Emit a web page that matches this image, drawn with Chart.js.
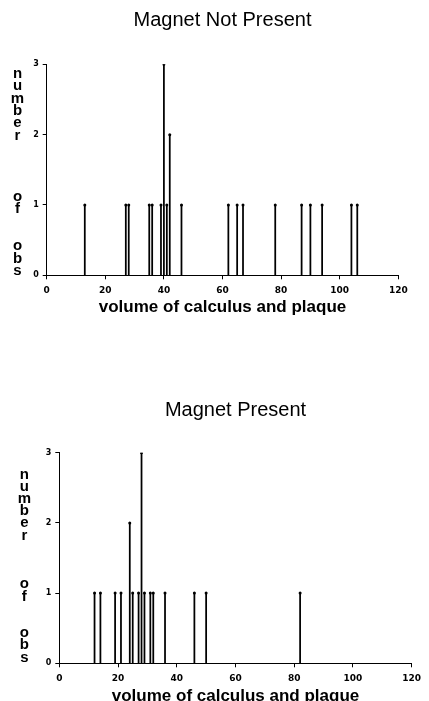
<!DOCTYPE html>
<html>
<head>
<meta charset="utf-8">
<script src="https://cdn.jsdelivr.net/npm/chart.js@4"></script>
<style>
  html, body { margin: 0; padding: 0; background: #fff; overflow: hidden; }
  .box { position: absolute; left: 0; width: 429px; height: 330px; }
</style>
</head>
<body>
<div class="box" style="top:0px"><canvas id="topChart"></canvas></div>
<div class="box" style="top:385px"><canvas id="bottomChart"></canvas></div>
<script>
// volumes (x) and how many obs at each volume
const notPresentVolume = [13, 27, 28, 35, 36, 39, 40, 41, 42, 46, 62, 65, 67, 78, 87, 90, 94, 104, 106];
const notPresentCount  = [1, 1, 1, 1, 1, 1, 3, 1, 2, 1, 1, 1, 1, 1, 1, 1, 1, 1, 1];
const presentVolume = [12, 14, 19, 21, 24, 25, 27, 28, 29, 31, 32, 36, 46, 50, 82];
const presentCount  = [1, 1, 1, 1, 2, 1, 1, 3, 1, 1, 1, 1, 1, 1, 1];

const xTicks = [0, 20, 40, 60, 80, 100, 120];
const yTicks = [0, 1, 2, 3];

const xTitle = 'volume of calculus and plaque';
// y title is drawn one letter per line, blanks are empty lines
const yLettersTop = ['n','u','m','b','e','r','','','','','o','f','','','o','b','s'];
const yLettersBottom = ['n','u','m','b','e','r','','','','o','f','','','o','b','s'];

// draws the upright stacked y axis title
const stackedLabel = {
    id: 'stackedLabel',
    afterDraw(chart, args, opts) {
        const ctx = chart.ctx;
        ctx.save();
        ctx.font = 'bold 15px "Liberation Sans", Arial, sans-serif';
        ctx.fillStyle = '#000';
        ctx.textAlign = 'center';
        ctx.textBaseline = 'middle';
        opts.lines.forEach(function(ch, i) {
            if (ch) ctx.fillText(ch, opts.x, opts.top + i * opts.step);
        });
        ctx.restore();
    }
};

function makeChart(id, title, volume, count, opt) {
    const bars = volume.map(function(v, i) { return {x: v, y: count[i]}; });
    return new Chart(document.getElementById(id).getContext('2d'), {
        type: 'bar',
        data: {
            datasets: [
                {
                    type: 'scatter',
                    data: bars,
                    backgroundColor: '#000',
                    borderWidth: 0,
                    pointRadius: 1.5
                },
                {
                    type: 'bar',
                    data: bars,
                    backgroundColor: '#000',
                    borderWidth: 0,
                    barThickness: 1.1
                }
            ]
        },
        plugins: [stackedLabel],
        options: {
            responsive: true,
            maintainAspectRatio: false,
            animation: false,
            layout: {
                padding: { left: 0, top: 0, right: opt.right, bottom: opt.bottom }
            },
            scales: {
                x: {
                    type: 'linear',
                    min: 0,
                    max: 120,
                    offset: false,
                    afterFit: function(s) { s.height = 45; },
                    afterBuildTicks: function(s) { s.ticks = xTicks.map(function(v) { return {value: v}; }); },
                    grid: { display: true, drawOnChartArea: false, offset: false, tickLength: 4, color: '#000' },
                    border: { display: true, color: '#000', width: 1 },
                    ticks: {
                        maxRotation: 0,
                        padding: 6,
                        color: '#000',
                        font: { family: '"DejaVu Sans"', size: 9, weight: 'bold' }
                    },
                    title: {
                        display: true,
                        text: xTitle,
                        color: '#000',
                        font: { family: '"Liberation Sans"', size: 17, weight: 'bold', lineHeight: 1.2 },
                        padding: { top: 0, bottom: opt.xTitlePad }
                    }
                },
                y: {
                    min: 0,
                    max: 3,
                    afterFit: function(s) { s.width = opt.left; },
                    afterBuildTicks: function(s) { s.ticks = yTicks.map(function(v) { return {value: v}; }); },
                    grid: { display: true, drawOnChartArea: false, tickLength: 4, color: '#000' },
                    border: { display: true, color: '#000', width: 1 },
                    ticks: {
                        padding: 4,
                        color: '#000',
                        font: { family: '"DejaVu Sans"', size: 8, weight: 'bold' }
                    }
                }
            },
            plugins: {
                legend: { display: false },
                tooltip: { enabled: false },
                title: {
                    display: true,
                    text: title,
                    fullSize: false,
                    color: '#000',
                    font: { family: '"Liberation Sans"', size: 20, weight: 'normal', lineHeight: 1.2 },
                    padding: { top: opt.titleTop, bottom: opt.titleBottom }
                },
                stackedLabel: { lines: opt.letters, x: opt.letterX, top: opt.letterTop, step: opt.letterStep }
            }
        }
    });
}

makeChart('topChart', 'Magnet Not Present', notPresentVolume, notPresentCount, {
    left: 46.7, right: 30.7, bottom: 9.7,
    titleTop: 8, titleBottom: 32.3, xTitlePad: 3,
    letters: yLettersTop, letterX: 17.5, letterTop: 74, letterStep: 12.3
});

makeChart('bottomChart', 'Magnet Present', presentVolume, presentCount, {
    left: 59.3, right: 17.3, bottom: 6.7,
    titleTop: 13, titleBottom: 30.7, xTitlePad: 1.4,
    letters: yLettersBottom, letterX: 24.3, letterTop: 89.5, letterStep: 12.2
});
</script>
</body>
</html>
